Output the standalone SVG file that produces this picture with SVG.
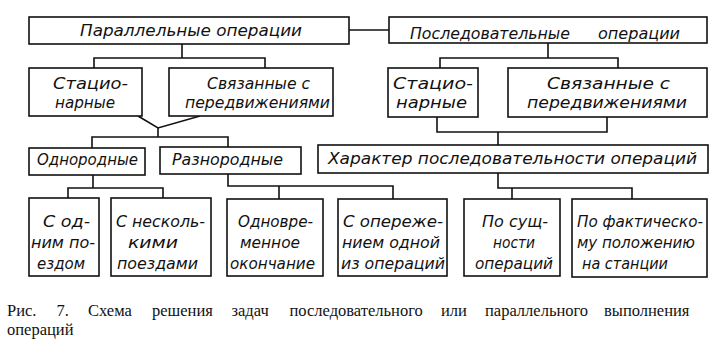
<svg xmlns="http://www.w3.org/2000/svg" width="719" height="347" viewBox="0 0 719 347">
<style>
.b{fill:#fff;stroke:#111;stroke-width:1.6}
.c{fill:none;stroke:#111;stroke-width:1.6}
.t{font-family:"DejaVu Sans Condensed","DejaVu Sans",sans-serif;font-style:italic;font-size:16px;fill:#111}
.cap{font-family:"Liberation Serif",serif;font-size:16.5px;fill:#111}
</style>
<rect width="719" height="347" fill="#fff"/>
<g id="connectors">
<path class="c" d="M349 30H389"/>
<path class="c" d="M182 44V58M94 68V58H265V68"/>
<path class="c" d="M548 43V58M440 68V58H618V68"/>
<path class="c" d="M138 116L158 128L200 116M158 128V137M92 148V137H228V147"/>
<path class="c" d="M437 117V132H607V117M498 132V145"/>
<path class="c" d="M93 175V188M68 198V188H163V198"/>
<path class="c" d="M228 174V186H393V199M279 186V199"/>
<path class="c" d="M498 173V188H632V199M512 188V199"/>
</g>
<g id="n-par">
<rect class="b" x="29" y="17" width="320" height="27"/>
<text class="t" x="80" y="36" textLength="222" lengthAdjust="spacingAndGlyphs">Параллельные операции</text>
</g>
<g id="n-seq">
<rect class="b" x="389" y="17" width="318" height="26"/>
<text class="t" x="410" y="39" textLength="160" lengthAdjust="spacingAndGlyphs">Последовательные</text>
<text class="t" x="598" y="39" textLength="82" lengthAdjust="spacingAndGlyphs">операции</text>
</g>
<g id="n-stat-l">
<rect class="b" x="29" y="68" width="113" height="48"/>
<text class="t" x="53" y="89" textLength="75" lengthAdjust="spacingAndGlyphs">Стацио-</text>
<text class="t" x="55" y="108" textLength="60" lengthAdjust="spacingAndGlyphs">нарные</text>
</g>
<g id="n-move-l">
<rect class="b" x="169" y="68" width="164" height="48"/>
<text class="t" x="207" y="89" textLength="103" lengthAdjust="spacingAndGlyphs">Связанные с</text>
<text class="t" x="185" y="108" textLength="145" lengthAdjust="spacingAndGlyphs">передвижениями</text>
</g>
<g id="n-stat-r">
<rect class="b" x="388" y="68" width="90" height="49"/>
<text class="t" x="393" y="89" textLength="80" lengthAdjust="spacingAndGlyphs">Стацио-</text>
<text class="t" x="396" y="108" textLength="71" lengthAdjust="spacingAndGlyphs">нарные</text>
</g>
<g id="n-move-r">
<rect class="b" x="508" y="68" width="199" height="49"/>
<text class="t" x="547" y="89" textLength="123" lengthAdjust="spacingAndGlyphs">Связанные с</text>
<text class="t" x="527" y="108" textLength="160" lengthAdjust="spacingAndGlyphs">передвижениями</text>
</g>
<g id="n-odn">
<rect class="b" x="29" y="148" width="116" height="27"/>
<text class="t" x="37" y="165" textLength="101" lengthAdjust="spacingAndGlyphs">Однородные</text>
</g>
<g id="n-razn">
<rect class="b" x="160" y="147" width="141" height="27"/>
<text class="t" x="172" y="165" textLength="111" lengthAdjust="spacingAndGlyphs">Разнородные</text>
</g>
<g id="n-har">
<rect class="b" x="318" y="145" width="390" height="28"/>
<text class="t" x="328" y="164" textLength="369" lengthAdjust="spacingAndGlyphs">Характер последовательности операций</text>
</g>
<g id="n-b1">
<rect class="b" x="29" y="198" width="70" height="78"/>
<text class="t" x="43" y="227" textLength="47" lengthAdjust="spacingAndGlyphs">С од-</text>
<text class="t" x="31" y="248" textLength="64" lengthAdjust="spacingAndGlyphs">ним по-</text>
<text class="t" x="37" y="269" textLength="48" lengthAdjust="spacingAndGlyphs">ездом</text>
</g>
<g id="n-b2">
<rect class="b" x="111" y="198" width="100" height="78"/>
<text class="t" x="116" y="227" textLength="89" lengthAdjust="spacingAndGlyphs">С несколь-</text>
<text class="t" x="128" y="248" textLength="50" lengthAdjust="spacingAndGlyphs">кими</text>
<text class="t" x="117" y="269" textLength="81" lengthAdjust="spacingAndGlyphs">поездами</text>
</g>
<g id="n-b3">
<rect class="b" x="227" y="199" width="96" height="77"/>
<text class="t" x="238" y="227" textLength="75" lengthAdjust="spacingAndGlyphs">Одновре-</text>
<text class="t" x="240" y="248" textLength="60" lengthAdjust="spacingAndGlyphs">менное</text>
<text class="t" x="230" y="269" textLength="85" lengthAdjust="spacingAndGlyphs">окончание</text>
</g>
<g id="n-b4">
<rect class="b" x="338" y="199" width="109" height="77"/>
<text class="t" x="343" y="227" textLength="100" lengthAdjust="spacingAndGlyphs">С опереже-</text>
<text class="t" x="342" y="248" textLength="98" lengthAdjust="spacingAndGlyphs">нием одной</text>
<text class="t" x="341" y="269" textLength="104" lengthAdjust="spacingAndGlyphs">из операций</text>
</g>
<g id="n-b5">
<rect class="b" x="464" y="199" width="96" height="77"/>
<text class="t" x="482" y="227" textLength="66" lengthAdjust="spacingAndGlyphs">По сущ-</text>
<text class="t" x="493" y="248" textLength="42" lengthAdjust="spacingAndGlyphs">ности</text>
<text class="t" x="475" y="269" textLength="78" lengthAdjust="spacingAndGlyphs">операций</text>
</g>
<g id="n-b6">
<rect class="b" x="572" y="199" width="135" height="78"/>
<text class="t" x="577" y="227" textLength="126" lengthAdjust="spacingAndGlyphs">По фактическо-</text>
<text class="t" x="577" y="248" textLength="118" lengthAdjust="spacingAndGlyphs">му положению</text>
<text class="t" x="582" y="269" textLength="86" lengthAdjust="spacingAndGlyphs">на станции</text>
</g>
<g id="caption">
<text class="cap" y="316"><tspan x="7">Рис.</tspan><tspan x="56.5">7.</tspan><tspan x="88">Схема</tspan><tspan x="152">решения</tspan><tspan x="231.5">задач</tspan><tspan x="289.5">последовательного</tspan><tspan x="441">или</tspan><tspan x="485">параллельного</tspan><tspan x="604">выполнения</tspan></text>
<text class="cap" x="7" y="335">операций</text>
</g>
</svg>
